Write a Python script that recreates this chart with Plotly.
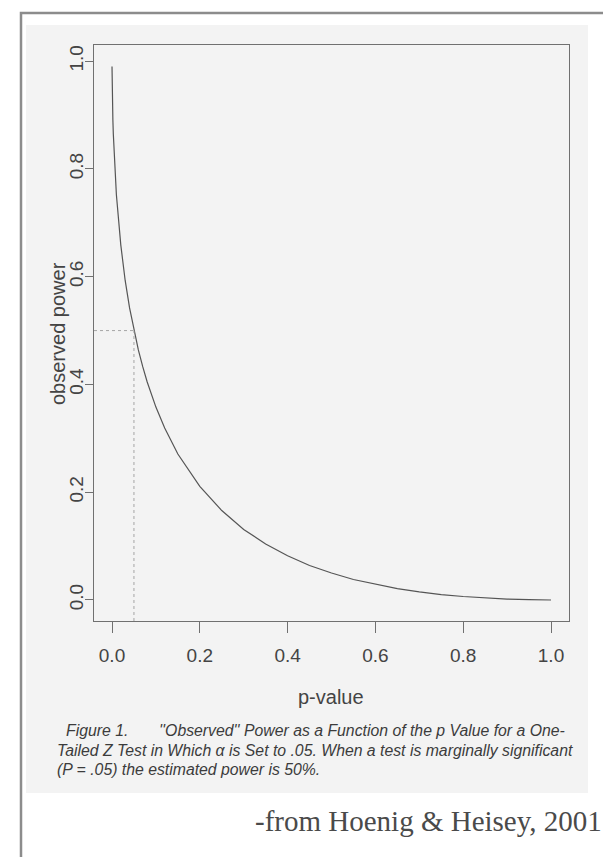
import plotly.graph_objects as go

# ---- data ----
p_value = [0.00002, 0.0002, 0.0005, 0.001, 0.002, 0.003, 0.005, 0.01, 0.02, 0.03,
           0.04, 0.05, 0.06, 0.07, 0.08, 0.10, 0.12, 0.15, 0.20, 0.25, 0.30,
           0.35, 0.40, 0.45, 0.50, 0.55, 0.60, 0.65, 0.70, 0.75, 0.80, 0.85,
           0.90, 0.95, 1.00]
observed_power = [0.990, 0.971, 0.950, 0.926, 0.891, 0.865, 0.824, 0.752, 0.659, 0.593,
                  0.542, 0.500, 0.464, 0.433, 0.405, 0.358, 0.319, 0.271, 0.211, 0.166, 0.131,
                  0.104, 0.082, 0.064, 0.050, 0.038, 0.029, 0.021, 0.015, 0.010, 0.0065, 0.0037,
                  0.0017, 0.0005, 0.0]
ref_p = 0.05
ref_power = 0.5
x_ticks = [0.0, 0.2, 0.4, 0.6, 0.8, 1.0]
y_ticks = [0.0, 0.2, 0.4, 0.6, 0.8, 1.0]
x_title = "p-value"
y_title = "observed power"
caption_lines = [
    "Figure 1.&nbsp;&nbsp;&nbsp;&nbsp;&nbsp;&nbsp;&nbsp;''Observed'' Power as a Function of the p Value for a One-",
    "Tailed Z Test in Which \u03b1 is Set to .05. When a test is marginally significant",
    "(P = .05) the estimated power is 50%.",
]
source_text = "-from Hoenig & Heisey, 2001"

# ---- layout geometry (pixels) ----
W, H = 611, 857
L, R, T, B = 86, 561, 37, 613
x_range = [-0.041, 1.041]
y_range = [-0.039, 1.030]


def px(x):
    return (x - L) / (R - L)


def py(y):
    return (B - y) / (B - T)


fig = go.Figure()
line_col = "#555555"
fig.add_trace(go.Scatter(x=p_value, y=observed_power, mode="lines",
                         line=dict(color=line_col, width=1.2), hoverinfo="skip"))
fig.add_trace(go.Scatter(x=[ref_p, ref_p], y=[y_range[0], ref_power], mode="lines",
                         line=dict(color="#a5a5a5", width=1, dash="dot"), hoverinfo="skip"))
fig.add_trace(go.Scatter(x=[x_range[0], ref_p], y=[ref_power, ref_power], mode="lines",
                         line=dict(color="#a5a5a5", width=1, dash="dot"), hoverinfo="skip"))

shapes = [
    # scanned figure background
    dict(type="rect", xref="paper", yref="paper", x0=px(18), x1=px(580), y0=py(17), y1=py(785),
         fillcolor="#f3f3f3", line=dict(width=0), layer="below"),
    # outer frame
    dict(type="rect", xref="paper", yref="paper", x0=px(13), x1=px(609), y0=py(5), y1=py(875),
         fillcolor="rgba(0,0,0,0)", line=dict(color="#8c8c8c", width=2.5), layer="above"),
]

text_col = "#444444"
annotations = [
    dict(text=y_title, xref="paper", yref="paper", x=px(50), y=py(326), textangle=-90,
         showarrow=False, font=dict(family="Liberation Sans", size=20, color=text_col),
         xanchor="center", yanchor="middle"),
    dict(text=x_title, xref="paper", yref="paper", x=px(323), y=py(689),
         showarrow=False, font=dict(family="Liberation Sans", size=20, color=text_col),
         xanchor="center", yanchor="middle"),
    dict(text=source_text, xref="paper", yref="paper", x=px(596), y=py(813),
         showarrow=False, font=dict(family="Liberation Serif", size=29, color="#4a4a4a"),
         xanchor="right", yanchor="middle"),
]
cap_x = [56, 47, 47]
cap_y = [722, 742, 761]
for txt, cx, cy in zip(caption_lines, cap_x, cap_y):
    annotations.append(dict(text="<i>" + txt + "</i>", xref="paper", yref="paper",
                            x=px(cx), y=py(cy), showarrow=False, xanchor="left", yanchor="middle",
                            font=dict(family="Liberation Sans", size=15.8, color="#3c3c3c")))

axis_common = dict(showgrid=False, zeroline=False, showline=True, mirror=True,
                   linecolor="#707070", linewidth=1, ticks="outside", tickcolor="#707070",
                   tickwidth=1, tickfont=dict(family="Liberation Sans", size=19, color=text_col),
                   tickformat=".1f")

fig.update_layout(
    width=W, height=H,
    margin=dict(l=L, r=W - R, t=T, b=H - B),
    paper_bgcolor="white", plot_bgcolor="#f9f9f9",
    showlegend=False,
    xaxis=dict(range=x_range, tickvals=x_ticks, ticklen=11, ticklabelstandoff=6, **axis_common),
    yaxis=dict(range=y_range, tickvals=y_ticks, ticklen=8, tickangle=-90, ticklabelstandoff=-6,
               **axis_common),
    shapes=shapes, annotations=annotations,
)

fig.write_html("out.html")
